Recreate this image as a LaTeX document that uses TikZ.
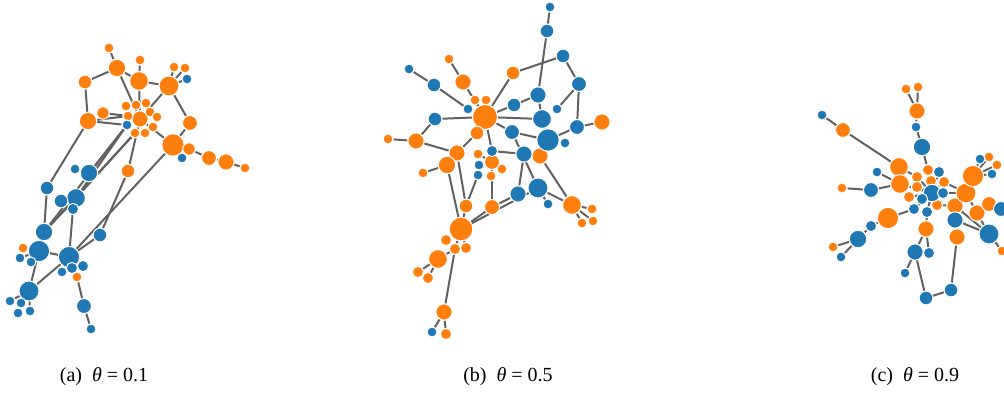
\documentclass[tikz,border=0pt]{standalone}
\usepackage{fontspec}
\setmainfont{Liberation Serif}
\usetikzlibrary{backgrounds}
\definecolor{netorange}{HTML}{FF7F0E}
\definecolor{netblue}{HTML}{1F77B4}
\tikzset{
      gnode/.style={
        circle,
        draw=white,
        line width=1pt,
        inner sep=0pt
      },
      orangenode/.style={gnode, fill=netorange, minimum size=1.25*#1},
      bluenode/.style={gnode, fill=netblue, minimum size=1.25*#1},
      netedge/.style={
        draw=black!62,
        line width=2pt
      },
      subcaption/.style={
        anchor=base,
        font=\fontsize{20}{24}\selectfont
      }
    }

\begin{document}
\begin{tikzpicture}[x=1pt,y=-1pt]
    \useasboundingbox (0,0) rectangle (1004,392);
    % (a) theta = 0.1
    \foreach \n/\x/\y/\s in {a1/109/48/8, a2/117/68/14, a3/140/60/8, a4/139/81/15, a5/85/82/11,
        a6/169/86/16, a7/174/67/8, a8/185/68/8, a10/88/121/14, a11/103/113/10, a12/140/119/13,
        a13/126/106/8, a14/136/105/8, a15/146/103/8, a16/150/112/8, a17/157/117/8, a18/153/127/8,
        a19/145/133/8, a20/135/133/8, a21/128/116/8, a23/190/123/12, a24/173/145/18, a25/189/149/10,
        a27/209/158/12, a28/226/162/13, a29/245/168/8, a30/128/171/11, a40/23/248/8, a50/77/277/8}
      \node[orangenode=\s pt] (\n) at (\x,\y) {};
    \foreach \n/\x/\y/\s in {a9/187/79/8, a22/127/125/8, a26/182/158/8, a31/75/169/8, a32/89/173/14,
        a33/47/188/11, a34/76/198/15, a35/61/201/11, a36/73/209/9, a37/44/232/14, a38/100/235/11,
        a39/39/251/17, a41/20/258/8, a42/31/262/8, a43/69/257/17, a44/62/272/8, a45/72/268/9,
        a46/83/266/9, a47/29/291/16, a48/10/301/8, a49/21/303/8, a51/18/313/8, a52/30/311/8,
        a53/84/306/12, a54/91/329/8}
      \node[bluenode=\s pt] (\n) at (\x,\y) {};
    % (b) theta = 0.5
    \foreach \n/\x/\y/\s in {b4/513/73/11, b5/449/59/8, b8/463/82/13, b11/475/100/8, b12/486/100/8,
        b16/485/117/20, b19/602/122/13, b20/477/133/11, b23/388/139/8, b24/416/141/13, b25/457/153/13,
        b28/540/156/13, b29/447/165/14, b30/478/154/8, b31/492/162/12, b33/423/173/8, b35/502/169/8,
        b36/491/176/8, b40/572/205/15, b41/592/209/8, b42/593/221/8, b43/582/223/8, b44/466/206/11,
        b45/492/207/12, b46/461/229/19, b47/446/240/9, b48/455/249/9, b49/466/248/9, b50/438/259/15,
        b51/418/272/9, b52/428/278/9, b53/444/312/13, b55/446/334/9}
      \node[orangenode=\s pt] (\n) at (\x,\y) {};
    \foreach \n/\x/\y/\s in {b1/550/7/8, b2/547/31/11, b3/563/56/11, b6/409/69/8, b7/434/85/11,
        b9/579/84/12, b10/538/95/13, b13/468/109/8, b14/514/105/11, b15/557/109/8, b17/435/119/11,
        b18/542/119/15, b21/577/127/12, b22/512/132/12, b26/548/140/18, b27/565/143/8, b32/492/151/9,
        b34/524/154/13, b37/479/165/8, b38/478/175/8, b39/518/194/13, b54/432/332/8, b56/538/188/16,
        b57/548/204/8}
      \node[bluenode=\s pt] (\n) at (\x,\y) {};
    % (c) theta = 0.9
    \foreach \n/\x/\y/\s in {c1/906/89/8, c2/918/87/8, c3/917/111/13, c7/843/130/12, c8/899/167/15,
        c10/900/184/15, c11/928/170/9, c13/917/177/9, c14/931/181/9, c15/944/182/9, c16/917/187/9,
        c18/842/188/8, c19/909/197/9, c23/937/205/9, c26/888/218/17, c30/833/247/8, c32/926/229/13,
        c38/957/237/13, c40/955/206/13, c41/966/193/16, c42/973/176/17, c44/989/157/8, c45/997/165/8,
        c47/977/213/13, c48/989/204/12, c51/1002/251/8}
      \node[orangenode=\s pt] (\n) at (\x,\y) {};
    \foreach \n/\x/\y/\s in {c4/916/127/8, c5/922/147/14, c6/822/115/8, c9/877/172/8, c12/939/172/9,
        c17/871/190/12, c20/932/193/14, c21/943/193/9, c22/922/199/9, c24/914/209/9, c25/927/212/9,
        c27/871/226/9, c28/858/239/14, c31/841/257/8, c33/915/252/13, c34/929/253/9, c35/905/273/8,
        c36/926/298/11, c37/951/290/11, c39/955/220/13, c43/980/159/8, c46/992/174/8, c49/1001/209/12,
        c50/989/234/16}
      \node[bluenode=\s pt] (\n) at (\x,\y) {};
    % links, behind the nodes
    \begin{scope}[on background layer]
      \foreach \u/\v in {a1/a2, a2/a5, a2/a4, a2/a12, a3/a4, a4/a6, a4/a12, a6/a7, a6/a8, a6/a9,
          a6/a12, a6/a23, a23/a24, a5/a10, a10/a21, a11/a21, a10/a22, a10/a33, a12/a24, a24/a25,
          a25/a27, a27/a28, a28/a29, a24/a26, a12/a30, a30/a38, a38/a43, a24/a43, a22/a32, a22/a34,
          a22/a37, a20/a37, a20/a34, a31/a32, a37/a34, a33/a37, a34/a36, a36/a43, a35/a34, a37/a39,
          a39/a43, a39/a40, a39/a41, a39/a42, a39/a47, a47/a43, a47/a48, a47/a49, a47/a51, a47/a52,
          a43/a44, a43/a45, a43/a46, a43/a50, a50/a53, a53/a54}
        \draw[netedge] (\u) -- (\v);
      \foreach \u/\v in {b1/b2, b2/b10, b4/b3, b3/b9, b9/b15, b9/b21, b21/b19, b21/b26, b4/b16,
          b5/b8, b8/b16, b6/b7, b7/b13, b13/b16, b17/b16, b16/b18, b16/b14, b16/b22, b14/b10,
          b10/b18, b18/b26, b22/b26, b26/b27, b23/b24, b24/b25, b24/b17, b20/b25, b20/b16, b25/b29,
          b29/b33, b16/b32, b32/b34, b34/b28, b28/b26, b29/b46, b30/b31, b31/b37, b31/b35, b31/b36,
          b37/b38, b38/b44, b25/b44, b44/b46, b45/b46, b39/b45, b56/b46, b22/b56, b32/b45, b34/b39,
          b56/b40, b56/b57, b40/b41, b40/b42, b40/b43, b28/b40, b46/b47, b46/b48, b46/b49, b48/b50,
          b50/b51, b50/b52, b48/b53, b53/b54, b53/b55, b11/b16, b12/b16}
        \draw[netedge] (\u) -- (\v);
      \foreach \u/\v in {c1/c3, c2/c3, c3/c4, c4/c5, c5/c11, c6/c7, c7/c8, c8/c13, c9/c10, c18/c17,
          c17/c10, c10/c20, c13/c20, c11/c20, c12/c20, c14/c20, c15/c20, c16/c20, c19/c20, c21/c20,
          c22/c20, c23/c20, c24/c20, c25/c20, c26/c24, c27/c26, c28/c27, c28/c30, c28/c31, c32/c25,
          c32/c33, c32/c34, c33/c35, c33/c36, c36/c37, c37/c38, c38/c39, c39/c40, c40/c23, c15/c41,
          c41/c42, c42/c43, c42/c44, c42/c45, c42/c46, c41/c47, c47/c50, c39/c50, c40/c50, c48/c49,
          c50/c51, c41/c21}
        \draw[netedge] (\u) -- (\v);
    \end{scope}
    % sub-captions
    \node[subcaption] (capa) at (104,381) {(a)\enspace\textit{θ} = 0.1};
    \node[subcaption] (capb) at (508,381) {(b)\enspace\textit{θ} = 0.5};
    \node[subcaption] (capc) at (915,381) {(c)\enspace\textit{θ} = 0.9};
    \end{tikzpicture}
\end{document}
